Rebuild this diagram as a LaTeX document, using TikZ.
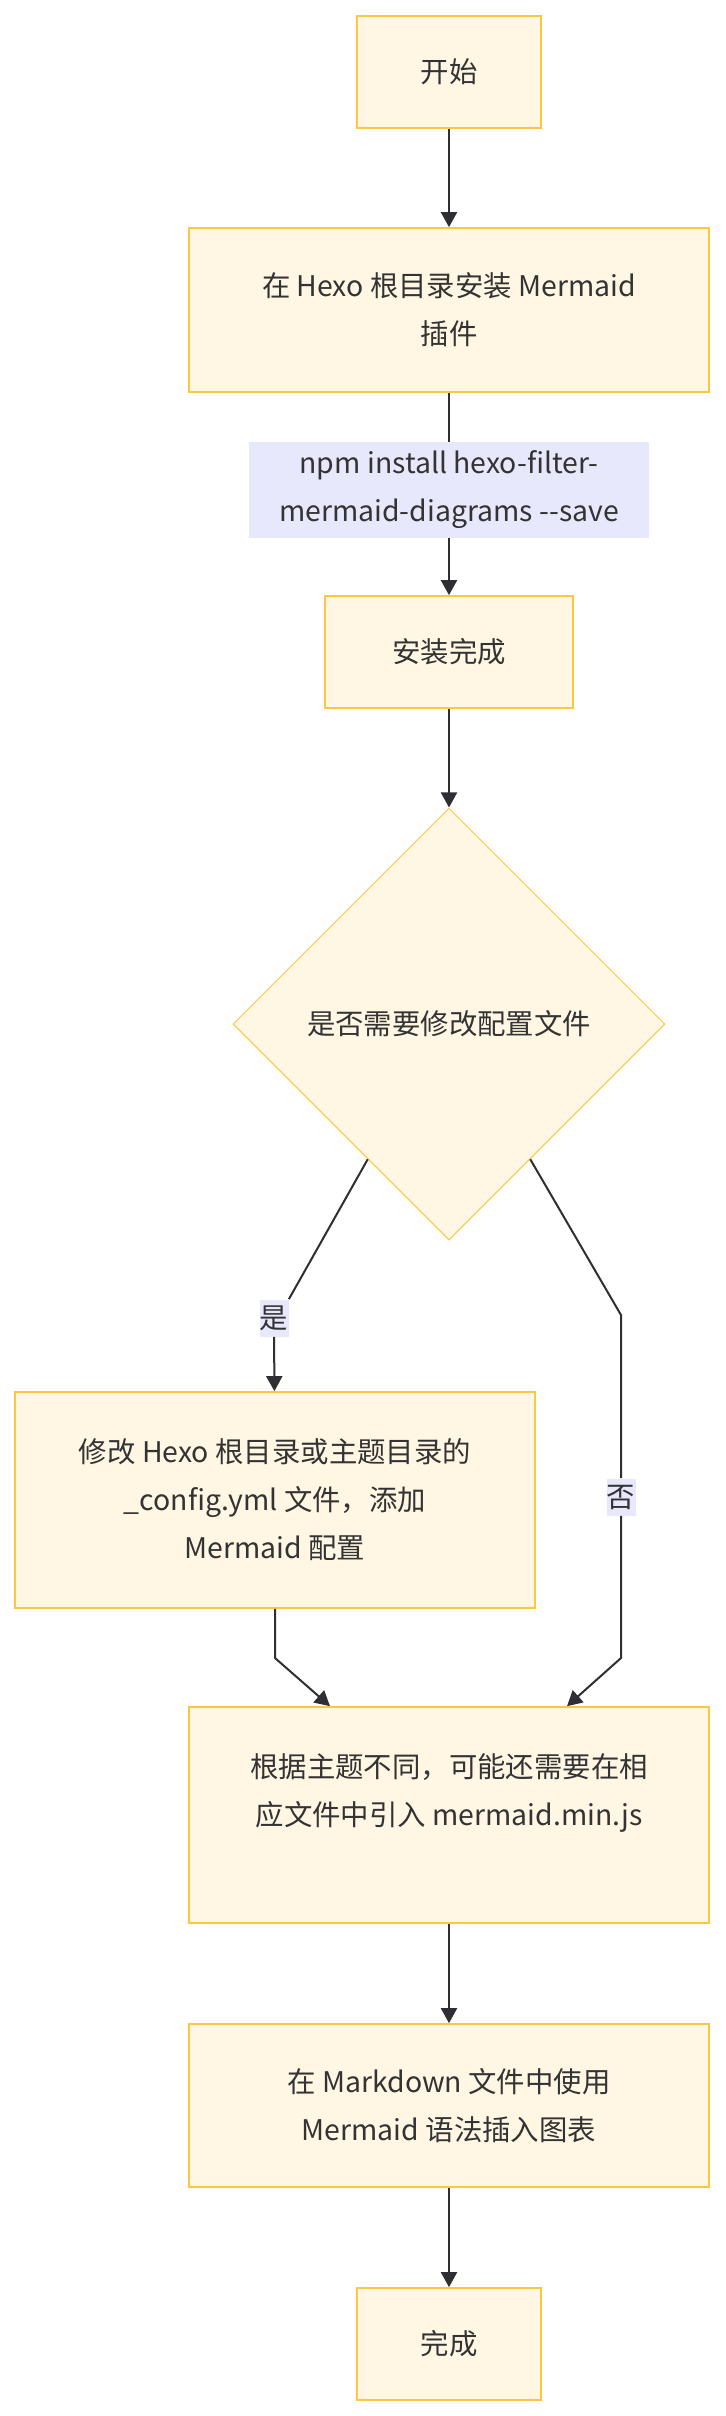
\documentclass[tikz,border=0pt]{standalone}
\usepackage{fontspec}
\setmainfont{Noto Sans CJK SC}
\usepackage{xcolor}
\usepackage{tikz}
\usetikzlibrary{arrows.meta,shapes.geometric,calc}
\definecolor{boxfill}{HTML}{FFF7E4}
\definecolor{boxline}{HTML}{FCC844}
\definecolor{labfill}{HTML}{E8E8FD}
\definecolor{inkgray}{HTML}{333333}
\definecolor{edgegray}{HTML}{2E2E33}
\begin{document}
\begin{tikzpicture}[x=0.5pt,y=-0.5pt,>={Triangle[width=8pt,length=7.5pt]},
	every node/.style={font=\fontsize{14.2}{24}\selectfont,text=inkgray,align=center,inner sep=0pt},
	stepbox/.style={draw=boxline,fill=boxfill,line width=0.85pt,minimum width=#1},
	choice/.style={diamond,aspect=1,draw=boxline,fill=boxfill,line width=0.5pt,minimum width=216pt,minimum height=216pt},
	edgelab/.style={fill=labfill,minimum width=14.5pt,minimum height=18.5pt},
	edge/.style={draw=edgegray,line width=1pt},
	]
\useasboundingbox (0,0) rectangle (726,2416);

\node[stepbox=92pt,minimum height=56pt](start) at (449,72){开始};
\node[stepbox=260pt,minimum height=82pt](install) at (449,310){在 Hexo 根目录安装 Mermaid\\插件};
\node[fill=labfill,minimum width=200pt,minimum height=48pt](cmd) at (449,490){npm install hexo-filter-\\mermaid-diagrams \mbox{-}\mbox{-}save};
\node[stepbox=124pt,minimum height=56pt](done1) at (449,652){安装完成};
\node[choice](decide) at (449,1024){是否需要修改配置文件};
\node[edgelab](yes) at (274,1318){是};
\node[edgelab](no) at (621,1497){否};
\node[stepbox=260pt,minimum height=108pt](modify) at (275,1500){修改 Hexo 根目录或主题目录的\\\_config.yml 文件，添加\\Mermaid 配置};
\node[stepbox=260pt,minimum height=108pt](theme) at (449,1815){根据主题不同，可能还需要在相\\应文件中引入 mermaid.min.js\\\phantom{应}};
\node[stepbox=260pt,minimum height=81.5pt](markdown) at (449,2105.5){在 Markdown 文件中使用\\Mermaid 语法插入图表};
\node[stepbox=92pt,minimum height=56pt](finish) at (449,2344){完成};

\coordinate (nobend) at (621,1315);
\coordinate (nojoin) at (621,1658);
\coordinate (yesjoin) at (275,1658);

\draw[edge,->](start)--(install);
\draw[edge](install)--(cmd);
\draw[edge,->](cmd)--(done1);
\draw[edge,->](done1)--(decide);
\draw[edge](decide.239)--(yes.north east);
\draw[edge,->](yes)--(modify);
\draw[edge](decide.301)--(nobend)--(no);
\draw[edge,->](no)--(nojoin)--([xshift=59pt]theme.north);
\draw[edge,->](modify)--(yesjoin)--([xshift=-59.5pt]theme.north);
\draw[edge,->](theme)--(markdown);
\draw[edge,->](markdown)--(finish);
\end{tikzpicture}
\end{document}
